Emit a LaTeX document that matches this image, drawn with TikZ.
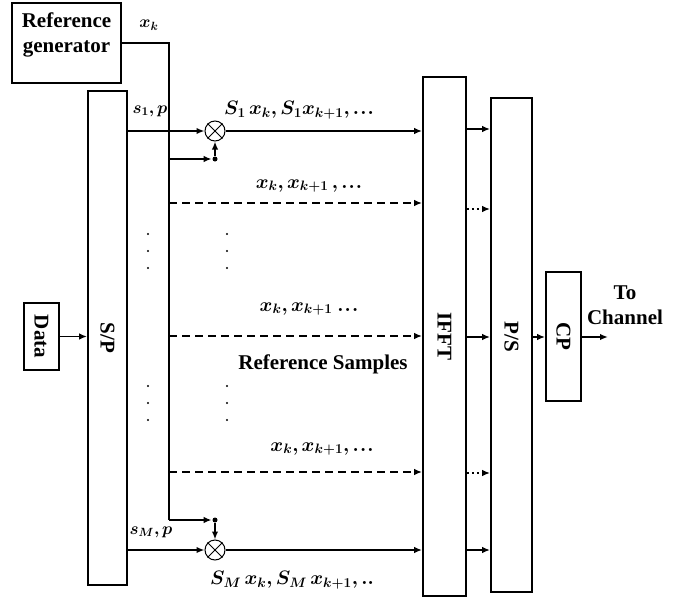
\RequirePackage{fix-cm}
\documentclass[tikz,border=0pt]{standalone}
\usepackage{fontspec}
\setmainfont{Liberation Serif}
\usepackage{bm}
\usetikzlibrary{arrows.meta}
\newcommand{\tdt}{{.}\mkern1mu{.}\mkern1mu{.}}
\begin{document}
\begin{tikzpicture}[x=1pt,y=-1pt, line width=1.8pt,
 box/.style={draw, rectangle, inner sep=0pt},
 lbl/.style={font=\fontsize{21}{25}\selectfont\bfseries, inner sep=0pt, align=center},
 mlbl/.style={font=\fontsize{19.5}{23}\selectfont, inner sep=0pt},
 slbl/.style={font=\fontsize{17}{19}\selectfont, inner sep=0pt},
 arr/.style={-{Latex[length=8pt,width=6.5pt]}},
 dsh/.style={dash pattern=on 8pt off 5pt},
 dtt/.style={dash pattern=on 2.5pt off 2.5pt},
 mult/.style={draw, circle, minimum size=20pt, inner sep=0pt, line width=1pt},
 dotn/.style={circle, fill, inner sep=0pt, minimum size=5pt},
 sdot/.style={circle, fill, inner sep=0pt, minimum size=2.2pt}]
\useasboundingbox (0,0) rectangle (691,597);

% boxes
\node[box, minimum width=109pt, minimum height=80pt] (refgen) at (66.5,43) {};
\node[lbl] (refgenlbl) at (66.5,35) {Reference\\generator};
\node[box, minimum width=39pt, minimum height=494pt] (sp) at (107.5,338) {};
\node[lbl, rotate=-90] (splbl) at (sp) {S/P};
\node[box, minimum width=35pt, minimum height=67pt] (data) at (41.5,336.5) {};
\node[lbl, rotate=-90] (datalbl) at (data) {Data};
\node[box, minimum width=43pt, minimum height=519pt] (ifft) at (444.5,336.5) {};
\node[lbl, rotate=-90] (ifftlbl) at (ifft) {IFFT};
\node[box, minimum width=41pt, minimum height=494pt] (ps) at (511.5,345) {};
\node[lbl, rotate=-90] (pslbl) at (511.5,337) {P/S};
\node[box, minimum width=35pt, minimum height=129pt] (cp) at (563.5,336.5) {};
\node[lbl, rotate=-90] (cplbl) at (cp) {CP};
\node[lbl] (tochan) at (625,305) {To\\Channel};

% multipliers
\node[mult] (m1) at (215,131) {};
\draw[line width=1pt] (m1.north west) -- (m1.south east) (m1.north east) -- (m1.south west);
\node[mult] (mM) at (215,550) {};
\draw[line width=1pt] (mM.north west) -- (mM.south east) (mM.north east) -- (mM.south west);

% reference line
\coordinate (vtop) at (169,43);
\coordinate (vbot) at (169,520);
\node[dotn] (d1) at (215,159) {};
\node[dotn] (dM) at (215,520) {};
\draw (refgen.east) -- (vtop) -- (vbot);
\draw[arr] (vbot) -- (dM.west);
\draw[arr] (dM) -- (mM.north);
\draw[arr] (vtop |- d1) -- (d1.west);
\draw[arr] (d1) -- (m1.south);

% data to S/P
\draw[arr] (data.east) -- (data.east -| sp.west);

% S/P to multipliers and IFFT
\draw[arr] (m1 -| sp.east) -- (m1.west);
\draw[arr] (m1.east) -- (m1 -| ifft.west);
\draw[arr] (mM -| sp.east) -- (mM.west);
\draw[arr] (mM.east) -- (mM -| ifft.west);

% dashed reference sample lines
\coordinate (r2) at (169,203);
\coordinate (r3) at (169,336);
\coordinate (r4) at (169,472);
\draw[arr,dsh] (r2) -- (r2 -| ifft.west);
\draw[arr,dsh] (r3) -- (r3 -| ifft.west);
\draw[arr,dsh] (r4) -- (r4 -| ifft.west);

% IFFT to P/S
\coordinate (q1) at (0,129);
\coordinate (q2) at (0,209);
\coordinate (q3) at (0,337);
\coordinate (q4) at (0,473);
\coordinate (q5) at (0,550);
\draw[arr] (q1 -| ifft.east) -- (q1 -| ps.west);
\draw[arr,dtt] (q2 -| ifft.east) -- (q2 -| ps.west);
\draw[arr] (q3 -| ifft.east) -- (q3 -| ps.west);
\draw[arr,dtt] (q4 -| ifft.east) -- (q4 -| ps.west);
\draw[arr] (q5 -| ifft.east) -- (q5 -| ps.west);

% P/S to CP to channel
\draw[arr] (q3 -| ps.east) -- (q3 -| cp.west);
\coordinate (out) at (608,337);
\draw[arr] (q3 -| cp.east) -- (out);

% labels
\node[slbl] (xklbl) at (149,25) {$\bm{x_k}$};
\node[slbl] (s1lbl) at (150,111) {$\bm{s_1, p}$};
\node[slbl] (sMlbl) at (151,532) {$\bm{s_M, p}$};
\node[mlbl] (row1) at (299,110) {$\bm{S_1\,x_k, S_1 x_{k+1}, \tdt}$};
\node[mlbl] (row2) at (309,186) {$\bm{x_k, x_{k+1}\,, \tdt}$};
\node[mlbl] (row3) at (309,309) {$\bm{x_k, x_{k+1}\ \tdt}$};
\node[lbl] (refsamp) at (323,364) {Reference Samples};
\node[mlbl] (row4) at (322,449) {$\bm{x_k, x_{k+1}, \tdt}$};
\node[mlbl] (row5) at (292,580) {$\bm{S_M\,x_k, S_M\,x_{k+1},{.}{.}}$};

% vertical dots
\foreach \yy/\nm in {234/a,251/b,268/c,386/d,403/e,420/f}{
  \node[sdot] (dl\nm) at (148,\yy) {};
  \node[sdot] (dr\nm) at (227,\yy) {};
}
\end{tikzpicture}
\end{document}
